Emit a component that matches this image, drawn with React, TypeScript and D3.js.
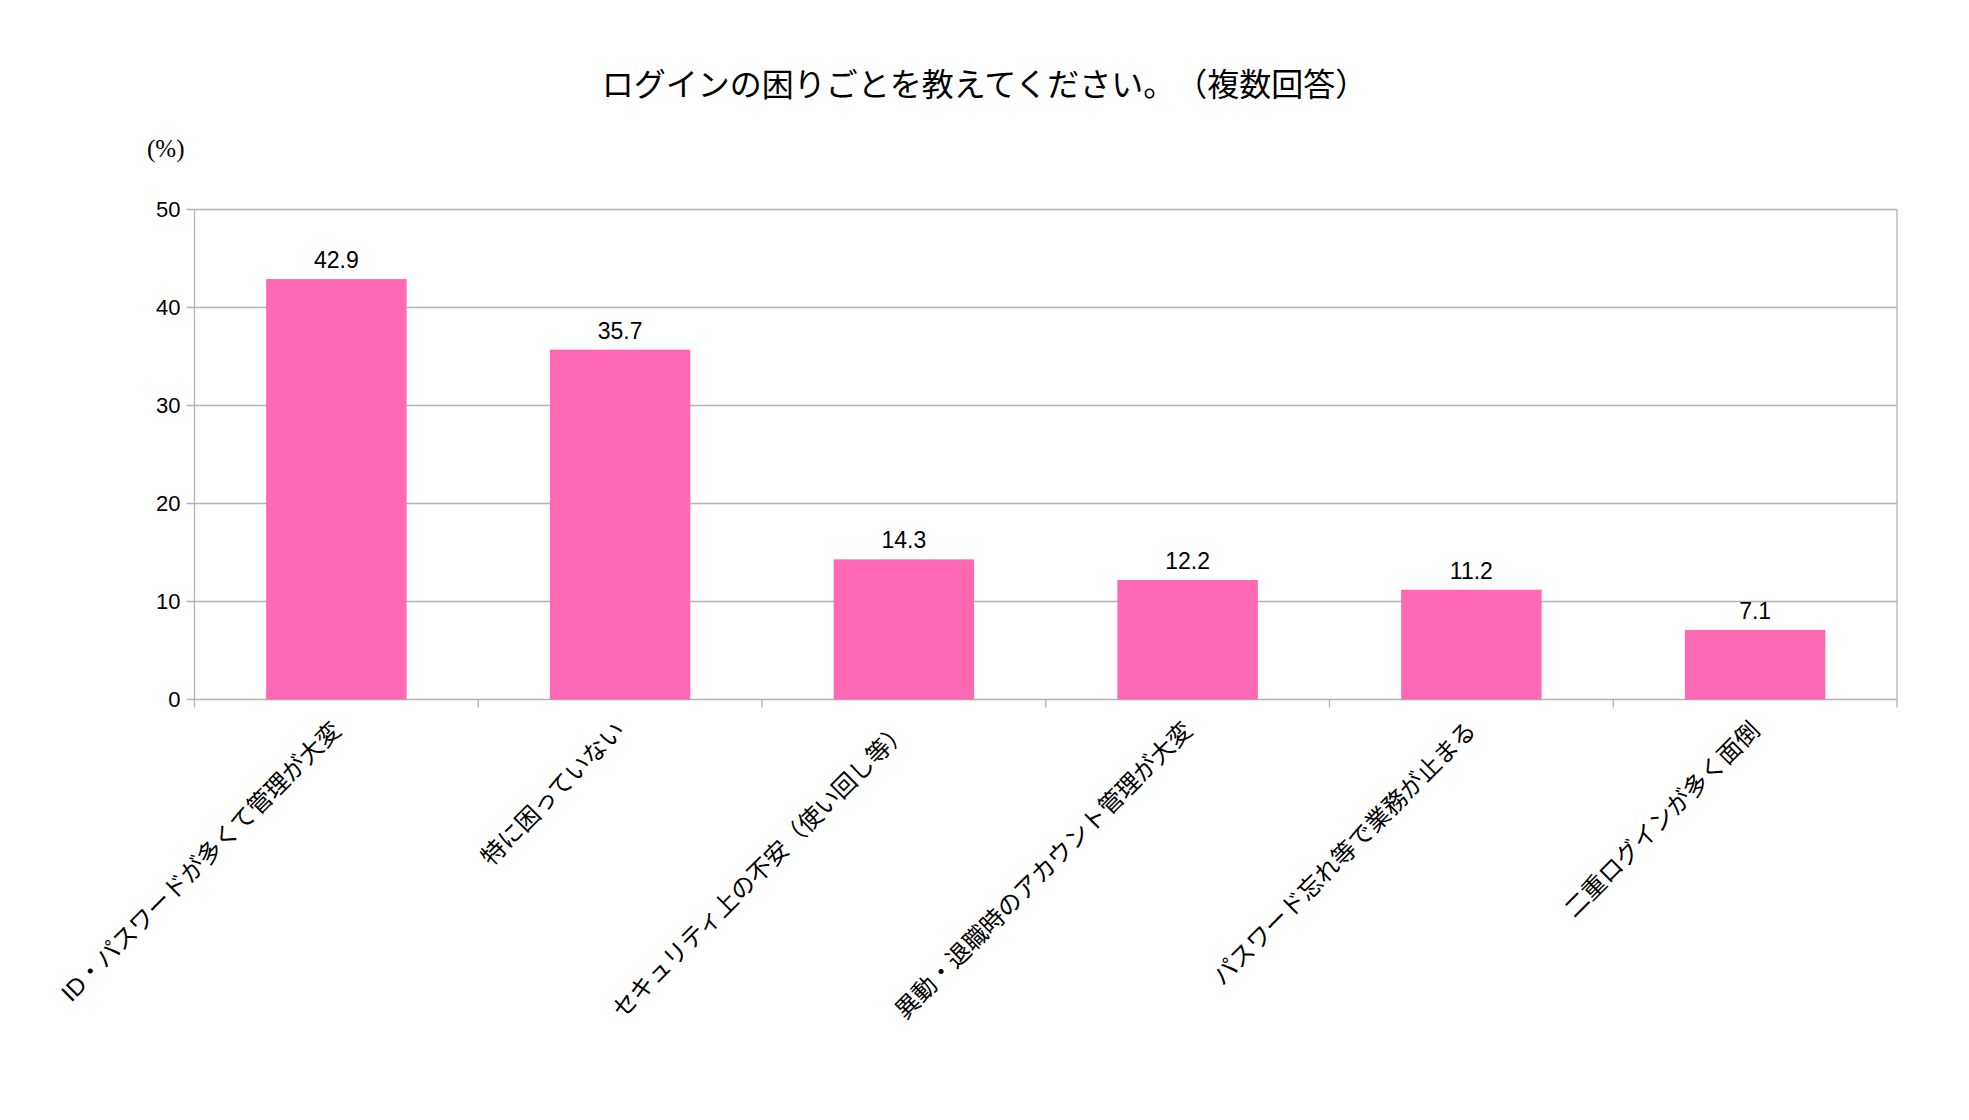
import { useEffect, useRef } from "react";
import * as d3 from "d3";

const categories = [
  "ID・パスワードが多くて管理が大変",
  "特に困っていない",
  "セキュリティ上の不安（使い回し等）",
  "異動・退職時のアカウント管理が大変",
  "パスワード忘れ等で業務が止まる",
  "二重ログインが多く面倒",
];
const values = [42.9, 35.7, 14.3, 12.2, 11.2, 7.1];
const yTicks = [0, 10, 20, 30, 40, 50];
const title = "ログインの困りごとを教えてください。（複数回答）";
const unitLabel = "(%)";

const W = 1969;
const H = 1120;
const SANS = "'Liberation Sans', 'Noto Sans CJK JP', sans-serif";

export default function App() {
  const svgRef = useRef<SVGSVGElement | null>(null);

  useEffect(() => {
    if (!svgRef.current) return;
    const svg = d3.select(svgRef.current);
    svg.selectAll("*").remove();

    const plot = { left: 194.5, right: 1897, top: 209.5, bottom: 699.5 };

    const x = d3
      .scaleBand<string>()
      .domain(categories)
      .range([plot.left, plot.right])
      .paddingInner(0.505)
      .paddingOuter(0.2525);

    // category ticks sit on band boundaries, not centers
    const step = x.step();
    const boundary = (i: number) => plot.left + i * step;

    const y = d3.scaleLinear().domain([0, 50]).range([plot.bottom, plot.top]);

    const grid = "#b3b3b3";

    // horizontal gridlines
    svg
      .append("g")
      .selectAll("line")
      .data(yTicks)
      .enter()
      .append("line")
      .attr("x1", plot.left - 8)
      .attr("x2", plot.right)
      .attr("y1", (d) => y(d))
      .attr("y2", (d) => y(d))
      .attr("stroke", grid)
      .attr("stroke-width", 1.3);

    // left axis line
    svg
      .append("line")
      .attr("x1", plot.left)
      .attr("x2", plot.left)
      .attr("y1", plot.top)
      .attr("y2", plot.bottom + 8)
      .attr("stroke", grid)
      .attr("stroke-width", 1.3);

    // category ticks (the last one is also the right frame)
    svg
      .append("g")
      .selectAll("line")
      .data(d3.range(1, categories.length + 1))
      .enter()
      .append("line")
      .attr("x1", (i) => boundary(i))
      .attr("x2", (i) => boundary(i))
      .attr("y1", (i) => (i === categories.length ? plot.top : plot.bottom))
      .attr("y2", plot.bottom + 8)
      .attr("stroke", grid)
      .attr("stroke-width", 1.3);

    // y tick labels
    svg
      .append("g")
      .selectAll("text")
      .data(yTicks)
      .enter()
      .append("text")
      .attr("x", plot.left - 14)
      .attr("y", (d) => y(d))
      .attr("dy", "0.36em")
      .attr("text-anchor", "end")
      .attr("font-family", SANS)
      .attr("font-size", 22)
      .attr("fill", "#000")
      .text((d) => d);

    // bars
    svg
      .append("g")
      .selectAll("rect")
      .data(values)
      .enter()
      .append("rect")
      .attr("x", (_, i) => x(categories[i]) as number)
      .attr("y", (d) => y(d))
      .attr("width", x.bandwidth())
      .attr("height", (d) => y(0) - y(d))
      .attr("fill", "#ff69b4");

    // value labels
    svg
      .append("g")
      .selectAll("text")
      .data(values)
      .enter()
      .append("text")
      .attr("x", (_, i) => (x(categories[i]) as number) + x.bandwidth() / 2)
      .attr("y", (d) => y(d) - 11)
      .attr("text-anchor", "middle")
      .attr("font-family", SANS)
      .attr("font-size", 23)
      .attr("fill", "#000")
      .text((d) => d.toFixed(1));

    // rotated category labels
    svg
      .append("g")
      .selectAll("text")
      .data(categories)
      .enter()
      .append("text")
      .attr("transform", (d) => {
        const cx = (x(d) as number) + x.bandwidth() / 2;
        return `translate(${cx + 6},732) rotate(-45)`;
      })
      .attr("text-anchor", "end")
      .attr("font-family", SANS)
      .attr("font-size", 24)
      .attr("fill", "#000")
      .text((d) => d);

    // title
    svg
      .append("text")
      .attr("x", W / 2)
      .attr("y", 96)
      .attr("text-anchor", "middle")
      .attr("font-family", "'Noto Sans CJK JP', sans-serif")
      .attr("font-size", 32)
      .attr("fill", "#000")
      .text(title);

    // unit label
    svg
      .append("text")
      .attr("x", 147)
      .attr("y", 157)
      .attr("font-family", "'Liberation Serif', serif")
      .attr("font-size", 25)
      .attr("fill", "#000")
      .text(unitLabel);
  }, []);

  return (
    <div style={{ position: "absolute", left: 0, top: 0 }}>
      <svg
        ref={svgRef}
        width={W}
        height={H}
        style={{ display: "block", background: "#fff", textSpacingTrim: "space-all" } as any}
      />
    </div>
  );
}
